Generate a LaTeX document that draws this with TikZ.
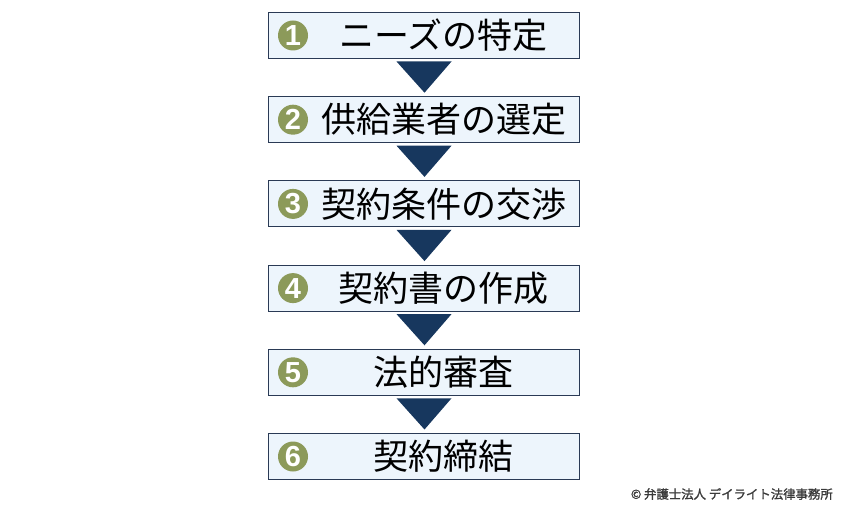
\documentclass[tikz,border=0pt]{standalone}
\usepackage{fontspec}
\newfontfamily\jpfont{Noto Sans CJK JP}
\newfontfamily\notefont[FakeBold=1.5]{Noto Sans CJK JP}
\newfontfamily\numfont{Liberation Sans}
\usetikzlibrary{positioning}
\definecolor{boxfill}{HTML}{EDF5FC}
\definecolor{boxline}{HTML}{2A3A55}
\definecolor{pointfill}{HTML}{17375E}
\definecolor{nofill}{HTML}{8C9A5A}
\definecolor{notegray}{HTML}{3A3A3A}

\begin{document}
\begin{tikzpicture}[x=1pt, y=1pt, node distance=38.2pt,
    stepbox/.style={draw=boxline, line width=1pt, fill=boxfill, minimum width=311pt, minimum height=46pt, inner sep=0pt, outer sep=0pt},
    stepno/.style={circle, fill=nofill, text=white, minimum size=30pt, inner sep=0pt, font=\numfont\bfseries\fontsize{29}{29}\selectfont},
    steptext/.style={inner sep=0pt, font=\jpfont\fontsize{35}{35}\selectfont},
    pointer/.style={fill=pointfill}]
    \useasboundingbox (0,0) rectangle (850,-513);
    % the six steps
    \node[stepbox] (s1) at (423.5,-35.5) {};
    \node[stepbox] (s2) [below=of s1] {};
    \node[stepbox] (s3) [below=of s2] {};
    \node[stepbox] (s4) [below=of s3] {};
    \node[stepbox] (s5) [below=of s4] {};
    \node[stepbox] (s6) [below=of s5] {};
    \foreach \i/\t in {1/ニーズの特定, 2/供給業者の選定, 3/契約条件の交渉, 4/契約書の作成, 5/法的審査, 6/契約締結} {
        \node[stepno] (n\i) at ([xshift=25pt]s\i.west) {\i};
        \node[steptext] (t\i) at ([xshift=20pt]s\i.center) {\t};
    }
    % pointers between the steps
    \foreach \a/\b in {s1/s2, s2/s3, s3/s4, s4/s5, s5/s6}
        \fill[pointer] ([xshift=-27pt,yshift=-3pt]\a.south) -- ([xshift=28pt,yshift=-3pt]\a.south) -- ([xshift=1pt,yshift=4pt]\b.north) -- cycle;
    \node[anchor=east, inner sep=0pt, text=notegray, font=\notefont\fontsize{12.4}{12.4}\selectfont] (copy) at (833,-494) {© 弁護士法人 デイライト法律事務所};
\end{tikzpicture}
\end{document}
